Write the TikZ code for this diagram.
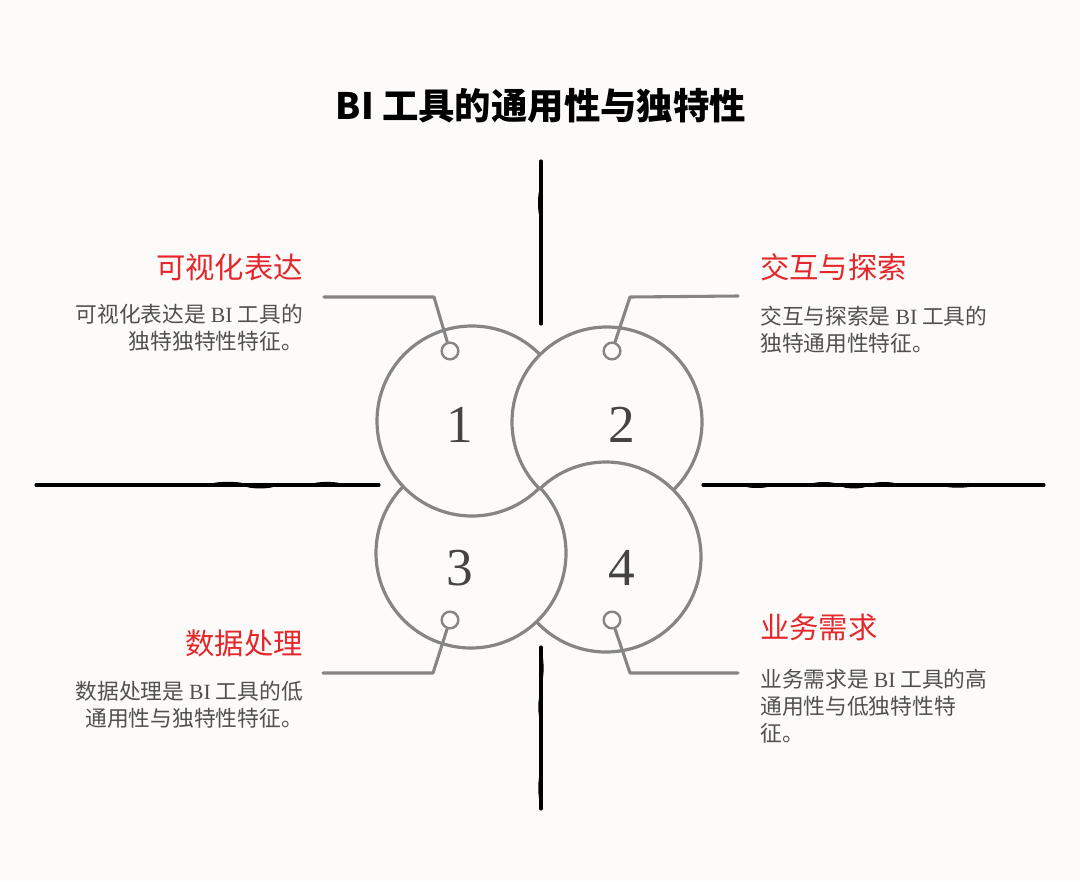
\documentclass[tikz,border=0pt]{standalone}
\usepackage{fontspec}
\setmainfont{Liberation Serif}
\newfontfamily\cjk{Noto Sans CJK SC}
\definecolor{bg}{HTML}{FCFBF9}
\definecolor{ringgray}{HTML}{858585}
\definecolor{headred}{HTML}{E5262B}
\definecolor{bodygray}{HTML}{505050}
\definecolor{numgray}{HTML}{444444}
\begin{document}
\begin{tikzpicture}[x=0.75pt,y=-0.75pt,
  ring/.style={draw=ringgray, line width=2.4pt},
  axisline/.style={draw=black, line width=2.3pt, line cap=round},
  bump/.style={fill=black},
  dot/.style={circle, draw=ringgray, line width=1.8pt, fill=bg, minimum size=12.5pt, inner sep=0pt},
  lead/.style={draw=ringgray, line width=2.3pt, line join=round, line cap=round},
  heading/.style={font=\cjk\fontsize{22}{26}\selectfont, text=headred, inner sep=0pt},
  body/.style={font=\cjk\fontsize{16.3}{20.3}\selectfont, text=bodygray, inner sep=0pt},
  num/.style={font=\fontsize{40}{40}\selectfont, text=numgray, inner sep=0pt}]
\useasboundingbox[fill=bg] (0,0) rectangle (1080,881);

% title
\node[font=\cjk\bfseries\fontsize{27.3}{32}\selectfont, inner sep=0pt] (title) at (541,106) {BI 工具的通用性与独特性};

% axes
\draw[axisline] (541,161) -- (541,324);
\draw[axisline] (541,647) -- (541,809);
\draw[axisline] (36,485) -- (379,485);
\draw[axisline] (703,485) -- (1044,485);
\fill[bump] (540.2,203) ellipse [x radius=2.2, y radius=14];
\fill[bump] (541.5,668) ellipse [x radius=2.1, y radius=14];
\fill[bump] (540.3,707) ellipse [x radius=2.0, y radius=12];
\fill[bump] (540.3,788) ellipse [x radius=2.0, y radius=14];
\fill[bump] (228,484) ellipse [x radius=16, y radius=2.2];
\fill[bump] (260,486.2) ellipse [x radius=14, y radius=2.2];
\fill[bump] (327,484) ellipse [x radius=14, y radius=2.1];
\fill[bump] (757,486) ellipse [x radius=12, y radius=2.0];
\fill[bump] (824,484) ellipse [x radius=12, y radius=2.0];
\fill[bump] (854,486.2) ellipse [x radius=12, y radius=2.2];
\fill[bump] (884,484) ellipse [x radius=12, y radius=2.0];
\fill[bump] (958,485.8) ellipse [x radius=14, y radius=1.9];

% circle centres
\coordinate (c1) at (472,421);
\coordinate (c2) at (607,422);
\coordinate (c3) at (471,553);
\coordinate (c4) at (606,557);

% interlocking rings: 2 over 1, 1 over 3, 3 over 4, 4 over 2
\begin{scope}[even odd rule]
  \clip (0,0) rectangle (1080,881) (c2) circle [radius=95];
  \draw[ring] (c1) circle [radius=95];
\end{scope}
\begin{scope}[even odd rule]
  \clip (0,0) rectangle (1080,881) (c4) circle [radius=95];
  \draw[ring] (c2) circle [radius=95];
\end{scope}
\begin{scope}[even odd rule]
  \clip (0,0) rectangle (1080,881) (c1) circle [radius=95];
  \draw[ring] (c3) circle [radius=95];
\end{scope}
\begin{scope}[even odd rule]
  \clip (0,0) rectangle (1080,881) (c3) circle [radius=95];
  \draw[ring] (c4) circle [radius=95];
\end{scope}

% numbers
\node[num] (n1) at (460,425) {1};
\node[num] (n2) at (622,425) {2};
\node[num] (n3) at (460,568) {3};
\node[num] (n4) at (622,568) {4};

% leader dots and lines
\node[dot] (d1) at (450,351) {};
\node[dot] (d2) at (612,351) {};
\node[dot] (d3) at (450,620) {};
\node[dot] (d4) at (612,620) {};
\coordinate (k1) at (434,297); \coordinate (e1) at (324,297);
\coordinate (k2) at (630,297); \coordinate (e2) at (738,296);
\coordinate (k3) at (433,673); \coordinate (e3) at (323,673);
\coordinate (k4) at (630,673); \coordinate (e4) at (738,673);
\draw[lead] (d1) -- (k1) -- (e1);
\draw[lead] (d2) -- (k2) -- (e2);
\draw[lead] (d3) -- (k3) -- (e3);
\draw[lead] (d4) -- (k4) -- (e4);

% texts
\node[heading, anchor=east] (h1) at (303,267) {可视化表达};
\node[body, align=right, anchor=north east] (b1) at (303,304) {可视化表达是 {\rmfamily BI} 工具的\\独特独特性特征。};
\node[heading, anchor=west] (h2) at (760,267) {交互与探索};
\node[body, align=left, anchor=north west] (b2) at (760,306) {交互与探索是 {\rmfamily BI} 工具的\\独特通用性特征。};
\node[heading, anchor=east] (h3) at (303,643) {数据处理};
\node[body, align=right, anchor=north east] (b3) at (303,681) {数据处理是 {\rmfamily BI} 工具的低\\通用性与独特性特征。};
\node[heading, anchor=west] (h4) at (760,627) {业务需求};
\node[body, align=left, anchor=north west] (b4) at (760,669) {业务需求是 {\rmfamily BI} 工具的高\\通用性与低独特性特\\征。};
\end{tikzpicture}
\end{document}
